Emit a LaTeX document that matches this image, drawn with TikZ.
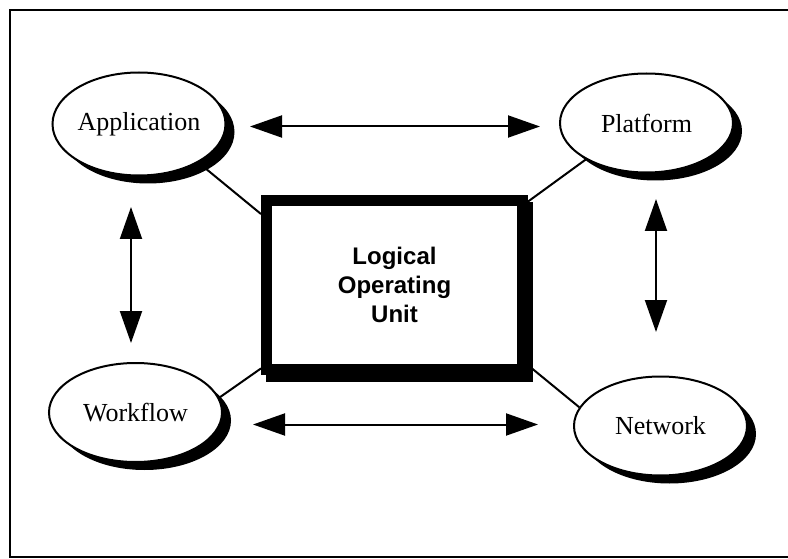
\documentclass[tikz,border=0pt]{standalone}
\usepackage{fontspec}
\setmainfont{Liberation Serif}
\newfontfamily\arialfont{Liberation Sans}
\usetikzlibrary{arrows.meta,shapes.geometric,shadows}
\pgfdeclarelayer{background}
\pgfsetlayers{background,main}
\newcommand{\zw}[1]{\makebox[0pt]{#1}}
\begin{document}
\begin{tikzpicture}[x=1pt,y=-1pt,
  unit/.style={ellipse, draw, line width=2pt, fill=white, inner sep=0pt,
    minimum width=173pt, minimum height=99pt,
    font=\fontsize{26}{30}\selectfont,
    drop shadow={shadow xshift=9pt, shadow yshift=-8pt, fill=black, opacity=1}},
  core/.style={rectangle, draw, line width=11pt, fill=white, inner sep=0pt,
    minimum width=256pt, minimum height=169pt, align=center,
    font=\arialfont\bfseries\fontsize{24}{29}\selectfont},
  link/.style={line width=2pt},
  biarrow/.style={line width=2pt,
    {Triangle[length=32pt,width=22pt]}-{Triangle[length=32pt,width=22pt]}},
  frame/.style={line width=2pt}]
\useasboundingbox (0,0) rectangle (788,559);
\draw[frame] (788,10) -- (10,10) -- (10,557) -- (788,557);

\node[unit, minimum height=103pt] (app) at (139,124) {\zw{Application}};
\node[unit] (plat) at (646.5,123) {\zw{Platform}};
\node[unit] (wf) at (135.5,412.5) {\zw{Workflow}};
\node[unit] (net) at (660.5,426) {\zw{Network}};
\node[core] (lou) at (394.5,285) {Logical\\Operating\\Unit};

\coordinate (t1) at (250,126.5); \coordinate (t2) at (540,126.5);
\coordinate (b1) at (253,424.5); \coordinate (b2) at (538,424.5);
\coordinate (l1) at (131,207);   \coordinate (l2) at (131,343);
\coordinate (r1) at (656,199);   \coordinate (r2) at (656,332);
\draw[biarrow] (t1) -- (t2);
\draw[biarrow] (b1) -- (b2);
\draw[biarrow] (l1) -- (l2);
\draw[biarrow] (r1) -- (r2);

\begin{pgfonlayer}{background}
\draw[link] (app.327) -- (lou.152);
\draw[link] (plat.211) -- (lou.32);
\draw[link] (wf.10) -- (lou.212);
\draw[link] (net.167) -- (lou.329);
\fill ([shift={(5,7)}]lou.north west) rectangle ([shift={(5,7)}]lou.south east);
\end{pgfonlayer}
\end{tikzpicture}
\end{document}
